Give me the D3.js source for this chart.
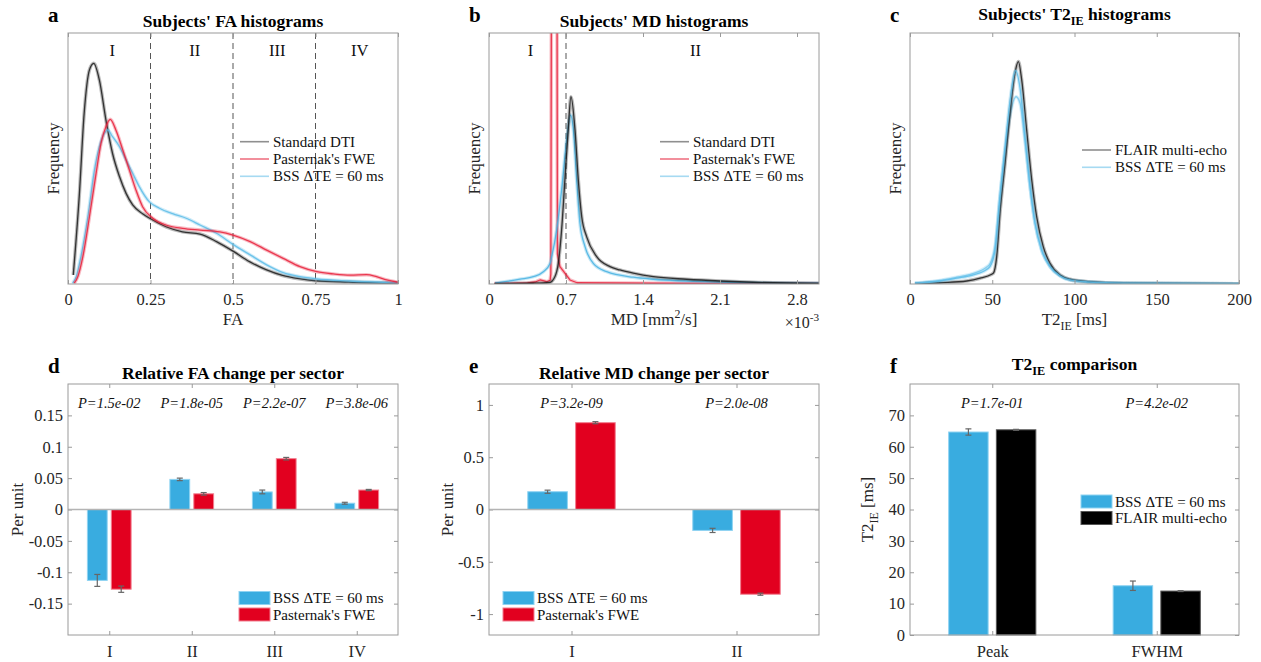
<!DOCTYPE html>
<html>
<head>
<meta charset="utf-8">
<script src="https://cdn.jsdelivr.net/npm/d3@7"></script>
<style>
  body { margin: 0; background: #fff; }
  svg { font-family: "Liberation Serif", "Times New Roman", serif; }
</style>
</head>
<body>
<div id="fig"></div>
<script>
// ---- histogram curves: [value, relative frequency] ----
var faDTI = [[0.016,0.036],[0.034,0.348],[0.049,0.68],[0.065,0.853],[0.078,0.879],[0.095,0.813],[0.115,0.653],[0.135,0.52],[0.156,0.428],[0.176,0.361],[0.196,0.315],[0.226,0.28],[0.257,0.255],[0.297,0.228],[0.347,0.208],[0.40,0.199],[0.45,0.169],[0.5,0.131],[0.55,0.089],[0.6,0.057],[0.65,0.034],[0.70,0.021],[0.75,0.013],[0.85,0.008],[1.0,0.004]];
var faFWE = [[0.019,0.003],[0.03,0.03],[0.045,0.109],[0.065,0.268],[0.085,0.44],[0.1,0.56],[0.115,0.627],[0.128,0.656],[0.145,0.614],[0.166,0.534],[0.186,0.454],[0.206,0.374],[0.226,0.308],[0.257,0.262],[0.297,0.235],[0.347,0.222],[0.40,0.215],[0.46,0.208],[0.5,0.195],[0.552,0.169],[0.602,0.135],[0.652,0.102],[0.703,0.069],[0.754,0.049],[0.804,0.04],[0.855,0.035],[0.905,0.037],[0.935,0.029],[0.966,0.016],[1.0,0.007]];
var faBSS = [[0.014,0.003],[0.025,0.03],[0.039,0.109],[0.06,0.268],[0.08,0.454],[0.095,0.547],[0.11,0.6],[0.12,0.614],[0.135,0.587],[0.156,0.547],[0.176,0.494],[0.196,0.441],[0.216,0.388],[0.246,0.328],[0.277,0.302],[0.317,0.28],[0.358,0.262],[0.40,0.235],[0.45,0.202],[0.5,0.158],[0.552,0.116],[0.602,0.076],[0.652,0.045],[0.703,0.029],[0.754,0.02],[0.855,0.012],[1.0,0.005]];

// MD in units of 1e-3 mm^2/s
var mdDTI = [[0.05,0.001],[0.4,0.003],[0.55,0.006],[0.6,0.03],[0.63,0.082],[0.66,0.215],[0.69,0.414],[0.72,0.614],[0.745,0.746],[0.782,0.614],[0.812,0.414],[0.843,0.268],[0.888,0.188],[0.979,0.109],[1.1,0.069],[1.19,0.056],[1.312,0.043],[1.494,0.029],[1.797,0.019],[2.1,0.012],[2.4,0.007],[3.0,0.002]];
var mdFWE = [[0.05,0.002],[0.35,0.004],[0.42,0.008],[0.464,0.016],[0.5,0.012],[0.524,0.009],[0.556,0.015],[0.562,0.04],[0.568,1.3],[0.58,3.0],[0.608,3.0],[0.618,1.3],[0.622,0.12],[0.645,0.069],[0.69,0.043],[0.736,0.016],[0.8,0.005],[1.5,0.003],[3.0,0.002]];
var mdBSS = [[0.055,0.003],[0.282,0.019],[0.403,0.029],[0.494,0.049],[0.555,0.082],[0.57,0.109],[0.615,0.215],[0.66,0.374],[0.706,0.574],[0.742,0.673],[0.767,0.614],[0.797,0.414],[0.827,0.242],[0.873,0.149],[0.948,0.082],[1.07,0.049],[1.312,0.027],[1.494,0.019],[2.1,0.008],[3.0,0.003]];

var t2FLAIR = [[3,0],[18.2,0.005],[34.5,0.012],[42.6,0.023],[49.7,0.039],[50.7,0.043],[52.7,0.109],[54.7,0.282],[57.8,0.481],[60.8,0.68],[63.8,0.839],[65.9,0.886],[67.9,0.813],[70.9,0.614],[74,0.414],[77,0.268],[81,0.149],[85.1,0.082],[91.2,0.036],[97.3,0.019],[109,0.009],[130,0.003],[200,0.001]];
// two BSS subject groups: taller and flatter peaks
var t2BSS = [[3,0.003],[18.2,0.012],[28.4,0.023],[38.5,0.036],[46.6,0.058],[48.6,0.069],[51.7,0.135],[54.7,0.348],[57.8,0.547],[60.8,0.73],[64.2,0.85],[66.9,0.78],[69.9,0.587],[73,0.388],[76,0.242],[80,0.135],[85.1,0.069],[91.2,0.032],[97.3,0.016],[109,0.008],[130,0.003],[200,0.001]];
var t2BSSFlat = [[3,0.004],[18.2,0.014],[28.4,0.027],[38.5,0.042],[46.6,0.068],[48.6,0.08],[51.7,0.15],[54.7,0.35],[57.8,0.53],[60.8,0.67],[64.5,0.746],[66.9,0.72],[69.9,0.57],[73,0.385],[76,0.245],[80,0.138],[85.1,0.07],[91.2,0.033],[97.3,0.016],[109,0.008],[130,0.003],[200,0.001]];

var faTicks = [0, 0.25, 0.5, 0.75, 1];
var mdTicks = [0, 0.7, 1.4, 2.1, 2.8];
var t2Ticks = [0, 50, 100, 150, 200];
var faSectors = ["I", "II", "III", "IV"];
var mdSectors = ["I", "II"];

// ---- bar charts ----
var faBarBSS = [-0.113, 0.048, 0.028, 0.010];
var faBarBSSErr = [0.0095, 0.002, 0.003, 0.0015];
var faBarFWE = [-0.127, 0.025, 0.081, 0.031];
var faBarFWEErr = [0.005, 0.002, 0.002, 0.001];
var faP = ["P=1.5e-02", "P=1.8e-05", "P=2.2e-07", "P=3.8e-06"];

var mdBarBSS = [0.17, -0.20];
var mdBarBSSErr = [0.015, 0.02];
var mdBarFWE = [0.83, -0.81];
var mdBarFWEErr = [0.01, 0.01];
var mdP = ["P=3.2e-09", "P=2.0e-08"];

var t2Cats = ["Peak", "FWHM"];
var t2BarBSS = [64.7, 15.7];
var t2BarBSSErr = [1.0, 1.5];
var t2BarFLAIR = [65.4, 14.0];
var t2BarFLAIRErr = [0.15, 0.15];
var t2P = ["P=1.7e-01", "P=4.2e-02"];

var faYTicks = [-0.15, -0.1, -0.05, 0, 0.05, 0.1, 0.15];
var mdYTicks = [-1, -0.5, 0, 0.5, 1];
var t2YTicks = [0, 10, 20, 30, 40, 50, 60, 70];

var BLUE = "#39ace0", RED = "#e2001f", BLACK = "#000000";
var FRAME = "#9a9a9a", TXT = "#262626";
var SERIF = "Liberation Serif, Times New Roman, serif";

var svg = d3.select("#fig").append("svg")
  .attr("width", 1261)
  .attr("height", 662)
  .attr("font-family", SERIF);

// text with sub/superscripts: parts = [[text, "sub"|"sup"|undefined], ...]
function rich(text, parts) {
  var shift = 0;
  parts.forEach(function(p) {
    var target = p[1] == "sub" ? 5 : (p[1] == "sup" ? -7 : 0);
    var t = text.append("tspan").text(p[0]).attr("dy", target - shift);
    if (p[1]) t.attr("font-size", "70%");
    shift = target;
  });
  return text;
}

function frame(g, x0, x1, y0, y1) {
  g.append("rect")
    .attr("x", x0).attr("y", y0)
    .attr("width", x1 - x0).attr("height", y1 - y0)
    .attr("fill", "none").attr("stroke", FRAME).attr("stroke-width", 1);
}

function styleAxis(a) {
  a.attr("font-family", SERIF).attr("font-size", "16.5px");
  a.select(".domain").remove();
  a.selectAll("line").attr("stroke", FRAME);
  a.selectAll("text").attr("fill", TXT);
}

function histPanel(o) {
  var top = 33, bottom = 284;
  var g = svg.append("g");
  var x = d3.scaleLinear().domain(o.domain).range([o.x0, o.x1]);
  var y = d3.scaleLinear().domain([0, 1]).range([bottom, top]);

  var id = "clip" + o.letter;
  svg.append("clipPath").attr("id", id).append("rect")
    .attr("x", o.x0).attr("y", top).attr("width", o.x1 - o.x0).attr("height", bottom - top);

  // sector boundaries
  o.dashes.forEach(function(d) {
    g.append("line")
      .attr("x1", x(d)).attr("x2", x(d)).attr("y1", top).attr("y2", bottom)
      .attr("stroke", "#555").attr("stroke-width", 1).attr("stroke-dasharray", "6,4");
  });
  var bounds = [o.domain[0]].concat(o.dashes, [o.domain[1]]);
  o.sectors.forEach(function(s, i) {
    g.append("text")
      .attr("x", x((bounds[i] + bounds[i + 1]) / 2) + 3).attr("y", 56)
      .attr("text-anchor", "middle").attr("font-size", "16.5px").attr("fill", "#111")
      .text(s);
  });

  var line = d3.line().x(d => x(d[0])).y(d => y(d[1]));
  var lines = g.append("g").attr("clip-path", "url(#" + id + ")");
  o.series.forEach(function(s) {
    line.curve(s.linear ? d3.curveLinear : d3.curveMonotoneX);
    lines.append("path").attr("d", line(s.data)).attr("fill", "none")
      .attr("stroke", s.color).attr("stroke-width", 3.5).attr("stroke-opacity", 0.3)
      .attr("stroke-linejoin", "round");
    lines.append("path").attr("d", line(s.data)).attr("fill", "none")
      .attr("stroke", s.color).attr("stroke-width", 1.3).attr("stroke-opacity", 0.85)
      .attr("stroke-linejoin", "round");
  });

  var ax = g.append("g").attr("transform", `translate(0,${bottom})`)
    .call(d3.axisBottom(x).tickValues(o.ticks).tickFormat(o.fmt)
      .tickSizeInner(-4).tickSizeOuter(0).tickPadding(9));
  styleAxis(ax);
  var axTop = g.append("g").attr("transform", `translate(0,${top})`)
    .call(d3.axisTop(x).tickValues(o.ticks).tickFormat("").tickSizeInner(-4).tickSizeOuter(0));
  styleAxis(axTop);
  frame(g, o.x0, o.x1, top, bottom);

  // legend
  o.legend.items.forEach(function(it, i) {
    var ly = o.legend.y + i * 17.3;
    g.append("line").attr("x1", o.legend.x).attr("x2", o.legend.x + 29)
      .attr("y1", ly).attr("y2", ly)
      .attr("stroke", it.color).attr("stroke-width", 1.6).attr("stroke-opacity", 0.55);
    g.append("text").attr("x", o.legend.x + 33).attr("y", ly + 5)
      .attr("font-size", "15px").attr("fill", "#111").text(it.label);
  });

  // Frequency label
  g.append("text")
    .attr("transform", `translate(${o.x0 - 9},158.5) rotate(-90)`)
    .attr("text-anchor", "middle").attr("font-size", "17px").attr("fill", TXT)
    .text("Frequency");

  // x label
  rich(g.append("text").attr("x", (o.x0 + o.x1) / 2).attr("y", 325)
    .attr("text-anchor", "middle").attr("font-size", "17px").attr("fill", TXT), o.xlabel);

  // title and panel letter
  rich(g.append("text").attr("x", (o.x0 + o.x1) / 2).attr("y", o.titleY)
    .attr("text-anchor", "middle").attr("font-size", "17.5px").attr("font-weight", "bold")
    .attr("fill", "#000"), o.title);
  g.append("text").attr("x", o.x0 - 20).attr("y", 22)
    .attr("font-size", "21px").attr("font-weight", "bold").text(o.letter);
  return g;
}

function barPanel(o) {
  var top = 384, bottom = 635;
  var g = svg.append("g");
  var n = o.cats.length;
  var x = d3.scaleLinear().domain([0.5, n + 0.5]).range([o.x0, o.x1]);
  var y = d3.scaleLinear().domain(o.ydomain).range([bottom, top]);
  var off = 0.145, bw = 0.24;

  var ax = g.append("g").attr("transform", `translate(0,${bottom})`)
    .call(d3.axisBottom(x).tickValues(d3.range(1, n + 1)).tickFormat((d, i) => o.cats[i])
      .tickSizeInner(-4).tickSizeOuter(0).tickPadding(10));
  styleAxis(ax);
  var axTop = g.append("g").attr("transform", `translate(0,${top})`)
    .call(d3.axisTop(x).tickValues(d3.range(1, n + 1)).tickFormat("").tickSizeInner(-4).tickSizeOuter(0));
  styleAxis(axTop);
  var ay = g.append("g").attr("transform", `translate(${o.x0},0)`)
    .call(d3.axisLeft(y).tickValues(o.yticks).tickFormat(d => String(+d.toFixed(2)))
      .tickSizeInner(-4).tickSizeOuter(0).tickPadding(5));
  styleAxis(ay);
  var ayR = g.append("g").attr("transform", `translate(${o.x1},0)`)
    .call(d3.axisRight(y).tickValues(o.yticks).tickFormat("").tickSizeInner(-4).tickSizeOuter(0));
  styleAxis(ayR);

  o.series.forEach(function(s, k) {
    var dx = k == 0 ? -off : off;
    var data = s.values.map((v, i) => ({ i: i + 1, v: v, e: s.err[i] }));
    g.selectAll(null).data(data).enter().append("rect")
      .attr("x", d => x(d.i + dx - bw / 2))
      .attr("width", d => x(d.i + dx + bw / 2) - x(d.i + dx - bw / 2))
      .attr("y", d => y(Math.max(0, d.v)))
      .attr("height", d => Math.abs(y(d.v) - y(0)))
      .attr("fill", s.color).attr("stroke", s.edge).attr("stroke-width", 1);
    var eb = g.selectAll(null).data(data).enter().append("g")
      .attr("stroke", "#666").attr("stroke-width", 1.2);
    eb.append("line").attr("x1", d => x(d.i + dx)).attr("x2", d => x(d.i + dx))
      .attr("y1", d => y(d.v - d.e)).attr("y2", d => y(d.v + d.e));
    eb.append("line").attr("x1", d => x(d.i + dx) - 3).attr("x2", d => x(d.i + dx) + 3)
      .attr("y1", d => y(d.v - d.e)).attr("y2", d => y(d.v - d.e));
    eb.append("line").attr("x1", d => x(d.i + dx) - 3).attr("x2", d => x(d.i + dx) + 3)
      .attr("y1", d => y(d.v + d.e)).attr("y2", d => y(d.v + d.e));
  });

  if (o.ydomain[0] < 0) {
    g.append("line").attr("x1", o.x0).attr("x2", o.x1).attr("y1", y(0)).attr("y2", y(0))
      .attr("stroke", "#b4b4b4").attr("stroke-width", 1.5);
  }
  frame(g, o.x0, o.x1, top, bottom);

  o.pvals.forEach(function(p, i) {
    g.append("text").attr("x", x(i + 1)).attr("y", 408)
      .attr("text-anchor", "middle").attr("font-size", "14.5px").attr("font-style", "italic")
      .attr("fill", "#111").text(p);
  });

  o.series.forEach(function(s, k) {
    var ly = o.legend.y + k * 16.5;
    g.append("rect").attr("x", o.legend.x).attr("y", ly - 6.5).attr("width", 31).attr("height", 13)
      .attr("fill", s.color).attr("stroke", s.edge).attr("stroke-width", 1);
    g.append("text").attr("x", o.legend.x + 34).attr("y", ly + 5)
      .attr("font-size", "15px").attr("fill", "#111").text(s.label);
  });

  rich(g.append("text").attr("transform", `translate(${o.ylabelX},${(top + bottom) / 2}) rotate(-90)`)
    .attr("text-anchor", "middle").attr("font-size", "17px").attr("fill", TXT), o.ylabel);

  rich(g.append("text").attr("x", (o.x0 + o.x1) / 2).attr("y", o.titleY)
    .attr("text-anchor", "middle").attr("font-size", "17.5px").attr("font-weight", "bold")
    .attr("fill", "#000"), o.title);
  g.append("text").attr("x", o.x0 - 20).attr("y", 373)
    .attr("font-size", "21px").attr("font-weight", "bold").text(o.letter);
}

var bssLabel = "BSS \u0394TE = 60 ms";

histPanel({
  letter: "a", x0: 68, x1: 398, domain: [0, 1], ticks: faTicks, fmt: d => String(d),
  dashes: [0.25, 0.5, 0.75], sectors: faSectors,
  series: [
    { data: faDTI, color: "#1a1a1a" },
    { data: faBSS, color: "#5cbce8" },
    { data: faFWE, color: "#e8203a" }
  ],
  legend: { x: 240, y: 141.7, items: [
    { label: "Standard DTI", color: "#333" },
    { label: "Pasternak's FWE", color: RED },
    { label: bssLabel, color: "#5cbce8" }
  ] },
  xlabel: [["FA"]], title: [["Subjects' FA histograms"]], titleY: 27
});

var gb = histPanel({
  letter: "b", x0: 489, x1: 819, domain: [0, 3], ticks: mdTicks, fmt: d => String(d),
  dashes: [0.7], sectors: mdSectors,
  series: [
    { data: mdFWE, color: "#e8203a", linear: true },
    { data: mdBSS, color: "#46b2e2" },
    { data: mdDTI, color: "#1a1a1a" }
  ],
  legend: { x: 660, y: 141.7, items: [
    { label: "Standard DTI", color: "#333" },
    { label: "Pasternak's FWE", color: RED },
    { label: bssLabel, color: "#5cbce8" }
  ] },
  xlabel: [["MD [mm"], ["2", "sup"], ["/s]"]], title: [["Subjects' MD histograms"]], titleY: 27
});
rich(gb.append("text").attr("x", 819).attr("y", 328).attr("text-anchor", "end")
  .attr("font-size", "16px").attr("fill", TXT), [["\u00d710"], ["-3", "sup"]]);

histPanel({
  letter: "c", x0: 910, x1: 1239, domain: [0, 200], ticks: t2Ticks, fmt: d => String(d),
  dashes: [], sectors: [],
  series: [
    { data: t2BSSFlat, color: "#7ccbee" },
    { data: t2FLAIR, color: "#1a1a1a" },
    { data: t2BSS, color: "#5cbce8" }
  ],
  legend: { x: 1082, y: 150, items: [
    { label: "FLAIR multi-echo", color: "#333" },
    { label: bssLabel, color: "#5cbce8" }
  ] },
  xlabel: [["T2"], ["IE", "sub"], [" [ms]"]], title: [["Subjects' T2"], ["IE", "sub"], [" histograms"]], titleY: 20
});

barPanel({
  letter: "d", x0: 68, x1: 398, cats: faSectors, ydomain: [-0.2, 0.2], yticks: faYTicks,
  series: [
    { values: faBarBSS, err: faBarBSSErr, color: BLUE, edge: "#8fd3f2", label: bssLabel },
    { values: faBarFWE, err: faBarFWEErr, color: RED, edge: "#f27d8e", label: "Pasternak's FWE" }
  ],
  pvals: faP, legend: { x: 239, y: 598 },
  ylabel: [["Per unit"]], ylabelX: 23,
  title: [["Relative FA change per sector"]], titleY: 379
});

barPanel({
  letter: "e", x0: 489, x1: 819, cats: mdSectors, ydomain: [-1.2, 1.2], yticks: mdYTicks,
  series: [
    { values: mdBarBSS, err: mdBarBSSErr, color: BLUE, edge: "#8fd3f2", label: bssLabel },
    { values: mdBarFWE, err: mdBarFWEErr, color: RED, edge: "#f27d8e", label: "Pasternak's FWE" }
  ],
  pvals: mdP, legend: { x: 503, y: 598 },
  ylabel: [["Per unit"]], ylabelX: 453,
  title: [["Relative MD change per sector"]], titleY: 379
});

barPanel({
  letter: "f", x0: 910, x1: 1239, cats: t2Cats, ydomain: [0, 80], yticks: t2YTicks,
  series: [
    { values: t2BarBSS, err: t2BarBSSErr, color: BLUE, edge: "#8fd3f2", label: bssLabel },
    { values: t2BarFLAIR, err: t2BarFLAIRErr, color: BLACK, edge: "#555", label: "FLAIR multi-echo" }
  ],
  pvals: t2P, legend: { x: 1081, y: 501.5 },
  ylabel: [["T2"], ["IE", "sub"], [" [ms]"]], ylabelX: 873,
  title: [["T2"], ["IE", "sub"], [" comparison"]], titleY: 370
});
</script>
</body>
</html>
